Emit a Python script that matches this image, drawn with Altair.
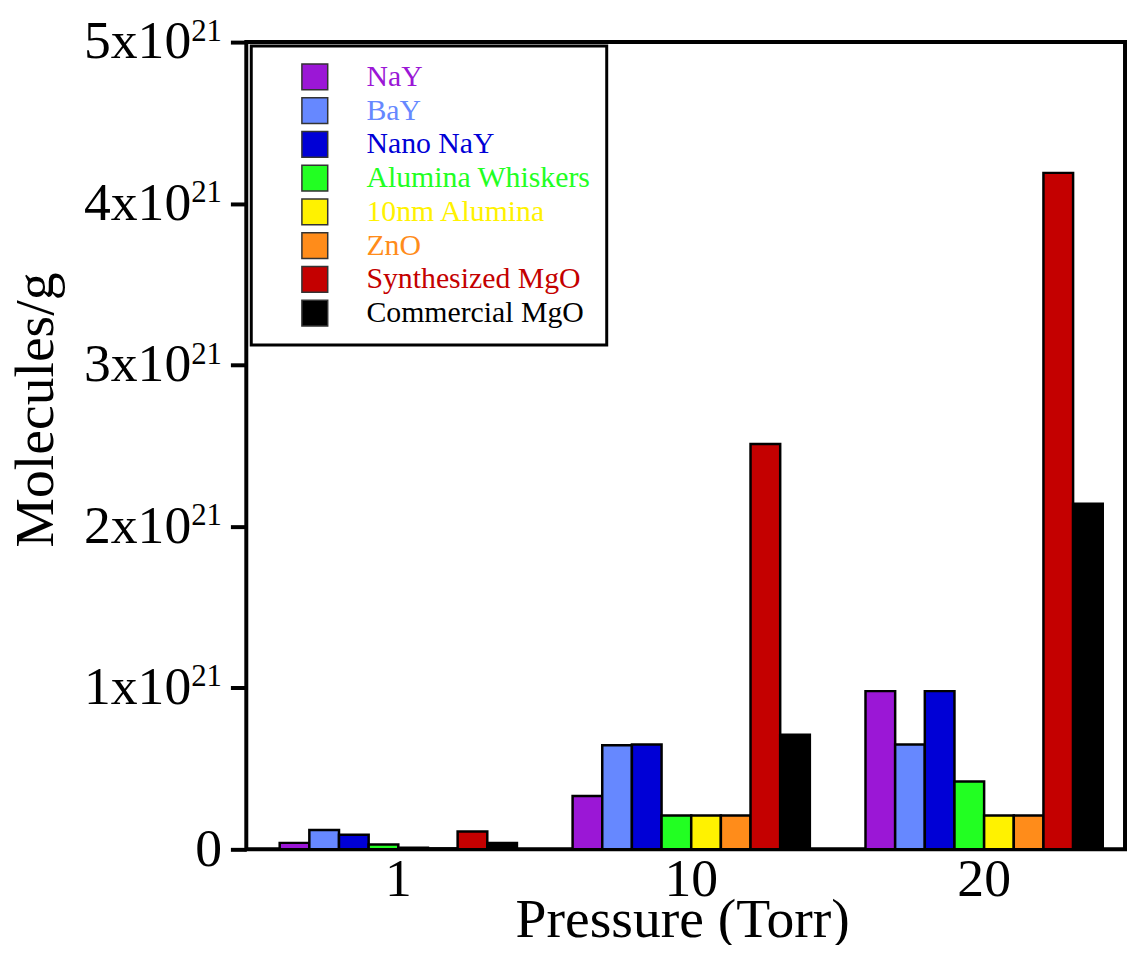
import altair as alt
import pandas as pd

pressures = ["1", "10", "20"]
series = ["NaY", "BaY", "Nano NaY", "Alumina Whiskers", "10nm Alumina", "ZnO",
          "Synthesized MgO", "Commercial MgO"]
colors = ["#9b17d6", "#6688ff", "#0000d6", "#22ff22", "#fff200", "#ff8c1a",
          "#c40000", "#000000"]

# values in units of 1e21 molecules/g, one per pressure (1, 10, 20 Torr)
nay = [0.04, 0.33, 0.98]
bay = [0.12, 0.645, 0.65]
nano_nay = [0.09, 0.65, 0.98]
alumina_whiskers = [0.03, 0.21, 0.42]
alumina_10nm = [0.01, 0.21, 0.21]
zno = [0.005, 0.21, 0.21]
synth_mgo = [0.11, 2.51, 4.19]
comm_mgo = [0.04, 0.71, 2.14]

y_ticks = [0, 1e21, 2e21, 3e21, 4e21, 5e21]

all_vals = [nay, bay, nano_nay, alumina_whiskers, alumina_10nm, zno, synth_mgo, comm_mgo]
rows = []
for s, vals in zip(series, all_vals):
    for p, v in zip(pressures, vals):
        rows.append({"pressure": p, "series": s, "value": v * 1e21})
df = pd.DataFrame(rows)

FONT = "Liberation Serif"
yscale = alt.Scale(domain=[0, 5e21], nice=False)

bars = alt.Chart(df).mark_bar(stroke="black", strokeWidth=2.5).encode(
    x=alt.X("pressure:N", sort=pressures,
            scale=alt.Scale(paddingInner=0.19, paddingOuter=0.095, align=0.6),
            axis=alt.Axis(title="Pressure (Torr)", labelAngle=0, ticks=False, tickSize=0,
                          domain=False, labelFont=FONT, labelFontSize=54,
                          labelColor="black", labelPadding=4,
                          titleFont=FONT, titleFontSize=56, titleFontWeight="normal",
                          titleColor="black", titleX=439, titleY=88,
                          titleBaseline="alphabetic", titleAlign="center")),
    xOffset=alt.XOffset("series:N", sort=series),
    y=alt.Y("value:Q", scale=yscale,
            axis=alt.Axis(title="Molecules/g", orient="left", values=y_ticks,
                          labelExpr="datum.value == 0 ? '' : format(datum.value/1e21, 'd') + 'x10'",
                          grid=False, domain=False, ticks=True, tickSize=16, tickWidth=4,
                          tickColor="black", labelFont=FONT, labelFontSize=54,
                          labelColor="black", labelPadding=40, labelBaseline="middle",
                          titleFont=FONT, titleFontSize=56, titleFontWeight="normal",
                          titleColor="black", titleAngle=-90, titleX=-195, titleY=370,
                          titleBaseline="alphabetic", titleAlign="center")),
    color=alt.Color("series:N", sort=series,
                    scale=alt.Scale(domain=series, range=colors),
                    legend=alt.Legend(title=None, orient="none", legendX=5, legendY=4,
                                      symbolType="square", symbolSize=676,
                                      symbolStrokeColor="#333", symbolStrokeWidth=1.5,
                                      labelFont=FONT, labelFontSize=30,
                                      labelColor=alt.ExprRef("scale('color', datum.value)"),
                                      labelOffset=37, rowPadding=2, padding=16,
                                      symbolOffset=33, fillColor="white",
                                      strokeColor="black", labelLimit=500)),
)

supers = alt.Chart(df).mark_point(opacity=0).encode(
    y=alt.Y("value:Q", scale=yscale,
            axis=alt.Axis(title=None, orient="left", values=y_ticks,
                          labelExpr="datum.value == 0 ? '0' : '21'",
                          grid=False, domain=False, ticks=False,
                          labelFont=FONT,
                          labelFontSize=alt.condition("datum.value == 0", alt.value(54), alt.value(31)),
                          labelOffset=alt.condition("datum.value == 0", alt.value(0), alt.value(-11)),
                          labelColor="black", labelPadding=25, labelBaseline="middle")),
)

chart = alt.layer(bars, supers).resolve_axis(y="independent").properties(
    width=885, height=813,
    padding={"left": 240, "top": 31, "right": 2, "bottom": 93},
    autosize=alt.AutoSizeParams(type="none"),
).configure_view(
    stroke="black", strokeWidth=4
).configure_legend(
    strokeWidth=3
)

chart.save("out.html", embed_options={"renderer": "svg", "actions": False})
